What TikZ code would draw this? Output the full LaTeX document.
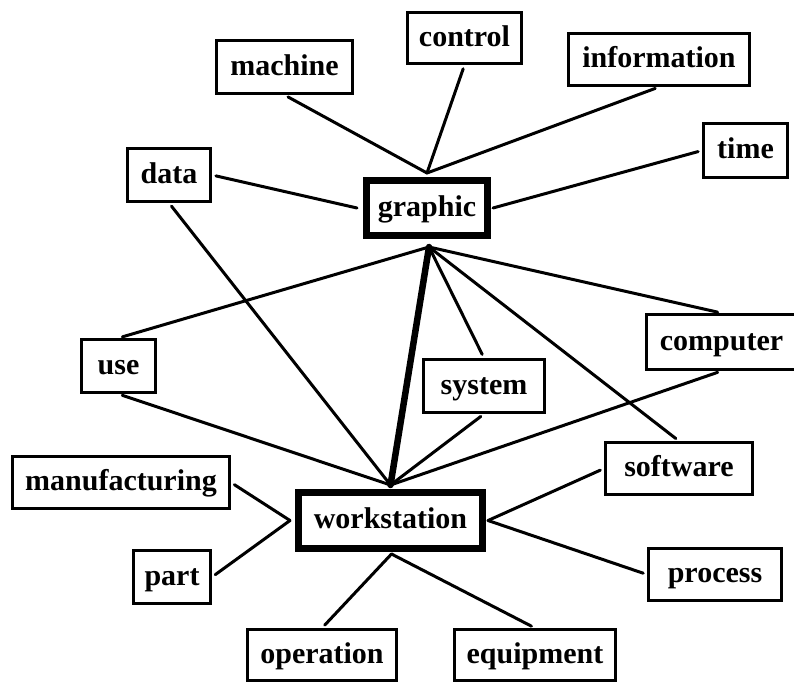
\documentclass[tikz,border=0pt]{standalone}
\usepackage{fontspec}
\setmainfont{Liberation Serif}
\usetikzlibrary{calc}
\begin{document}
\begin{tikzpicture}[x=1pt,y=-1pt,
  box/.style={draw=black, line width=2.6pt, fill=white, inner sep=0pt,
    text height=22pt, text depth=6pt,
    font=\fontsize{30}{36}\selectfont\bfseries},
  hub/.style={box, line width=7pt},
  link/.style={line width=3pt, line cap=round, shorten <=4pt},
  trunk/.style={line width=6.5pt, line cap=round},
]
\useasboundingbox[fill=white] (0,0) rectangle (794,683);

% central terms
\node[hub, minimum width=121pt, minimum height=55pt] (graphic) at (427,208) {graphic};
\node[hub, minimum width=184pt, minimum height=56pt] (workstation) at (390.5,520.5) {workstation};

% terms around "graphic"
\node[box, minimum width=136.4pt, minimum height=53.4pt] (machine) at (284.5,67) {machine};
\node[box, minimum width=114.4pt, minimum height=51.4pt] (control) at (464.5,38) {control};
\node[box, minimum width=181.4pt, minimum height=52.4pt] (information) at (659,59.5) {information};
\node[box, minimum width=83.4pt, minimum height=53.4pt] (data) at (169,175) {data};
\node[box, minimum width=84.4pt, minimum height=54.4pt] (time) at (745.5,150.5) {time};

% shared terms
\node[box, minimum width=74.4pt, minimum height=53.4pt] (use) at (118.5,366) {use};
\node[box, minimum width=121.4pt, minimum height=53.4pt] (system) at (484,386) {system};
\node[box, minimum width=150.4pt, minimum height=55.4pt] (computer) at (721.5,342) {computer};
\node[box, minimum width=147.4pt, minimum height=52.4pt] (software) at (679,468.5) {software};

% terms around "workstation"
\node[box, minimum width=217.4pt, minimum height=52.4pt] (manufacturing) at (121,482.5) {manufacturing};
\node[box, minimum width=77.4pt, minimum height=53.4pt] (part) at (172,577) {part};
\node[box, minimum width=133.4pt, minimum height=52.4pt] (process) at (715,574.5) {process};
\node[box, minimum width=149.4pt, minimum height=51.4pt] (operation) at (322,655) {operation};
\node[box, minimum width=161.4pt, minimum height=51.4pt] (equipment) at (535,655) {equipment};

% meeting points just outside the two central boxes
\coordinate (g-n) at ($(graphic.north)+(0,-4)$);
\coordinate (g-w) at ($(graphic.west)+(-6,0)$);
\coordinate (g-e) at ($(graphic.east)+(2,0)$);
\coordinate (g-s) at ($(graphic.south)+(2,8)$);
\coordinate (w-n) at ($(workstation.north)+(0,-4)$);
\coordinate (w-w) at ($(workstation.west)+(-5,0)$);
\coordinate (w-e) at ($(workstation.east)+(2,0)$);
\coordinate (w-s) at ($(workstation.south)+(1,2)$);

% links of "graphic"
\draw[link] (machine.south) -- (g-n);
\draw[link] (control.south) -- (g-n);
\draw[link] (information.south) -- (g-n);
\draw[link] (data.east) -- (g-w);
\draw[link] (time.west) -- (g-e);
\draw[link] (use.north) -- (g-s);
\draw[link] (system.north) -- (g-s);
\draw[link] (software.north) -- (g-s);
\draw[link] (computer.north) -- (g-s);

% links of "workstation"
\draw[link] (data.south) -- (w-n);
\draw[link] (use.south) -- (w-n);
\draw[link] (system.south) -- (w-n);
\draw[link] (computer.south) -- (w-n);
\draw[link] (manufacturing.east) -- (w-w);
\draw[link] (part.east) -- (w-w);
\draw[link] (software.west) -- (w-e);
\draw[link] (process.west) -- (w-e);
\draw[link] (operation.north) -- (w-s);
\draw[link] (equipment.north) -- (w-s);

% strong link between the two central terms
\draw[trunk] (g-s) -- (w-n);
\end{tikzpicture}
\end{document}
